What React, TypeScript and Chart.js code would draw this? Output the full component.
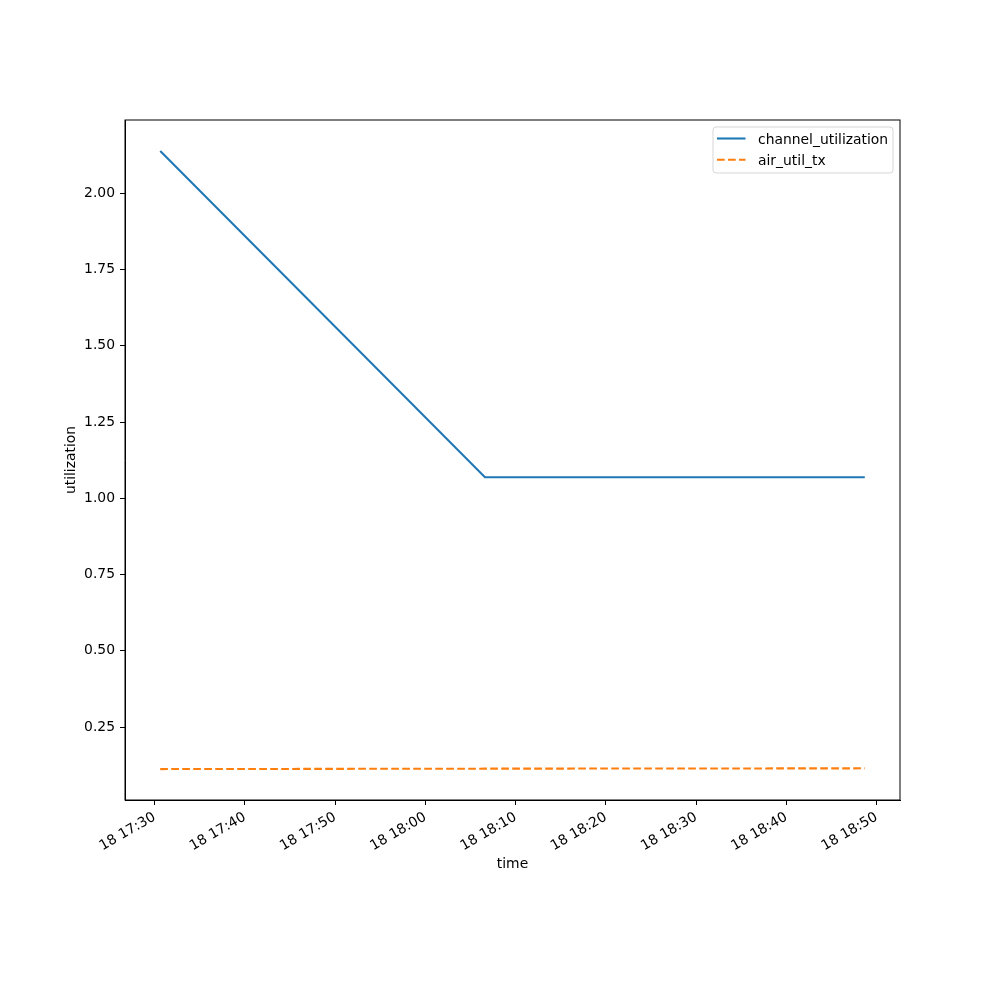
import React, { useEffect, useRef } from "react";
import { Chart, registerables } from "chart.js";

Chart.register(...registerables);

// ---- data ----
const timeLabels = ["17:30:38", "18:06:37", "18:48:42"];
const channelUtilization = [2.139, 1.069, 1.069];
const airUtilTx = [0.1121, 0.1135, 0.1146];
const seriesNames = ["channel_utilization", "air_util_tx"];
const seriesColors = ["#1f77b4", "#ff7f0e"];
const dayLabel = "18";
const xTitle = "time";
const yTitle = "utilization";

const toMinutes = (t: string) => {
  const [h, m, s] = t.split(":").map(Number);
  return h * 60 + m + s / 60;
};

const FONT = "DejaVu Sans";

export default function App() {
  const ref = useRef<HTMLCanvasElement | null>(null);

  useEffect(() => {
    document.body.style.margin = "0";
    const xs = timeLabels.map(toMinutes);
    const xMinD = Math.min(...xs);
    const xMaxD = Math.max(...xs);
    const xSpan = xMaxD - xMinD;
    const allY = [...channelUtilization, ...airUtilTx];
    const yMinD = Math.min(...allY);
    const yMaxD = Math.max(...allY);
    const ySpan = yMaxD - yMinD;

    const framePlugin = {
      id: "frame",
      afterDraw(chart: any) {
        const { ctx, chartArea: a } = chart;
        ctx.save();
        ctx.strokeStyle = "#000";
        ctx.lineWidth = 1;
        ctx.strokeRect(a.left, a.top, a.right - a.left, a.bottom - a.top);

        // axis titles
        ctx.fillStyle = "#000";
        ctx.font = `13.9px "${FONT}"`;
        ctx.textAlign = "center";
        ctx.textBaseline = "middle";
        ctx.fillText(xTitle, (a.left + a.right) / 2, a.bottom + 64);
        ctx.save();
        ctx.translate(a.left - 54, (a.top + a.bottom) / 2);
        ctx.rotate(-Math.PI / 2);
        ctx.fillText(yTitle, 0, 0);
        ctx.restore();

        // legend
        const w = 180;
        const h = 46;
        const lx = a.right - 7 - w;
        const ly = a.top + 7;
        ctx.beginPath();
        ctx.roundRect(lx, ly, w, h, 3);
        ctx.fillStyle = "rgba(255,255,255,0.8)";
        ctx.fill();
        ctx.strokeStyle = "rgba(204,204,204,0.8)";
        ctx.lineWidth = 1;
        ctx.stroke();
        ctx.textAlign = "left";
        seriesNames.forEach((name, i) => {
          const yy = ly + 11.5 + i * 21.3;
          ctx.beginPath();
          ctx.strokeStyle = seriesColors[i];
          ctx.lineWidth = 2.08;
          ctx.setLineDash(i === 1 ? [7.7, 3.3] : []);
          ctx.moveTo(lx + 4, yy);
          ctx.lineTo(lx + 32.5, yy);
          ctx.stroke();
          ctx.setLineDash([]);
          ctx.fillStyle = "#000";
          ctx.fillText(name, lx + 45, yy + 1.5);
        });
        ctx.restore();
      },
    };

    const chart = new Chart(ref.current as HTMLCanvasElement, {
      type: "line",
      data: {
        datasets: [
          {
            label: seriesNames[0],
            data: xs.map((x, i) => ({ x, y: channelUtilization[i] })),
            borderColor: seriesColors[0],
            borderWidth: 2.08,
            pointRadius: 0,
            tension: 0,
            fill: false,
          },
          {
            label: seriesNames[1],
            data: xs.map((x, i) => ({ x, y: airUtilTx[i] })),
            borderColor: seriesColors[1],
            borderWidth: 2.08,
            borderDash: [7.7, 3.3],
            pointRadius: 0,
            tension: 0,
            fill: false,
          },
        ],
      },
      options: {
        animation: false,
        responsive: false,
        devicePixelRatio: 1,
        layout: { padding: { top: 120, right: 100, left: 0, bottom: 0 } },
        plugins: { legend: { display: false }, tooltip: { enabled: false } },
        scales: {
          x: {
            type: "linear",
            min: xMinD - 0.05 * xSpan,
            max: xMaxD + 0.05 * xSpan,
            afterFit: (s: any) => {
              s.height = 200;
            },
            border: { display: true, color: "#000", width: 1 },
            grid: {
              drawOnChartArea: false,
              drawTicks: true,
              tickLength: 5,
              color: "#000",
              tickColor: "#000",
            },
            ticks: {
              stepSize: 10,
              includeBounds: false,
              autoSkip: false,
              minRotation: 30,
              maxRotation: 30,
              padding: 4,
              color: "#000",
              font: { family: FONT, size: 13.9 },
              callback: (v: any) => {
                const n = Math.round(Number(v));
                const h = Math.floor(n / 60);
                const m = n % 60;
                return `${dayLabel} ${String(h).padStart(2, "0")}:${String(m).padStart(2, "0")}`;
              },
            },
          },
          y: {
            type: "linear",
            min: yMinD - 0.05 * ySpan,
            max: yMaxD + 0.05 * ySpan,
            afterFit: (s: any) => {
              s.width = 125;
            },
            border: { display: true, color: "#000", width: 1 },
            grid: {
              drawOnChartArea: false,
              drawTicks: true,
              tickLength: 5,
              color: "#000",
              tickColor: "#000",
            },
            ticks: {
              stepSize: 0.25,
              includeBounds: false,
              padding: 5,
              color: "#000",
              font: { family: FONT, size: 13.9 },
              callback: (v: any) => Number(v).toFixed(2),
            },
          },
        },
      },
      plugins: [framePlugin],
    } as any);

    return () => chart.destroy();
  }, []);

  return (
    <div style={{ position: "absolute", left: 0, top: 0, width: 1000, height: 1000, background: "#fff" }}>
      <canvas ref={ref} width={1000} height={1000} />
    </div>
  );
}
